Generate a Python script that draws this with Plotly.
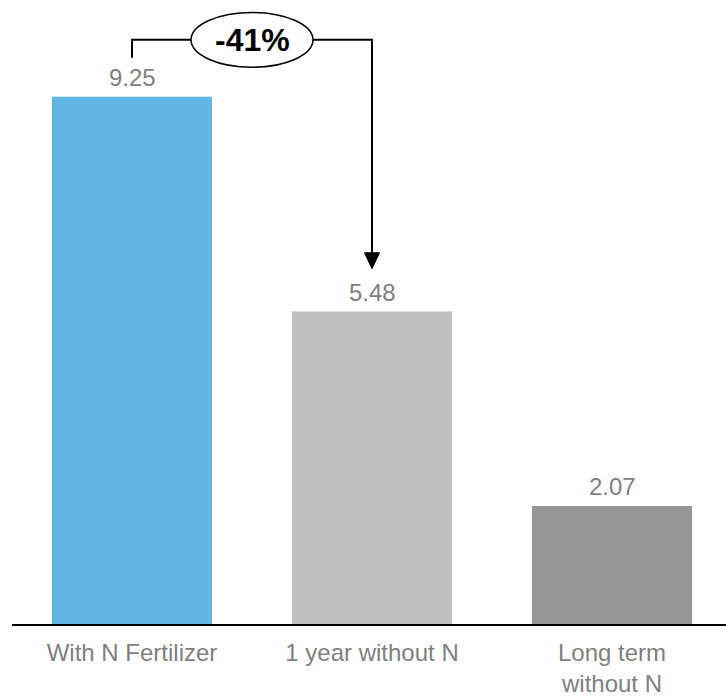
import plotly.graph_objects as go

# Grain yield by nitrogen treatment
categories = ["With N Fertilizer", "1 year without N", "Long term<br>without N"]
values = [9.25, 5.48, 2.07]
value_labels = ["9.25", "5.48", "2.07"]
bar_colors = ["#62B5E5", "#BFBFBF", "#969696"]
change_label = "-41%"

W, H = 726, 697
ML, MR, MT, MB = 12, 0, 0, 71
plot_w = W - ML - MR
plot_h = H - MT - MB
x_lo = -0.5
x_hi = x_lo + plot_w / 240.0          # 240 px per category
px_per_unit = 57.19
y_hi = plot_h / px_per_unit

def dx(px):
    return px / 240.0

def dy(px):
    return px / px_per_unit

TEXT_GREY = "#7F7F7F"
FONT = "Liberation Sans, Arial, sans-serif"
LABEL_SIZE = 24

fig = go.Figure()
fig.add_trace(go.Bar(
    x=list(range(len(categories))),
    y=values,
    marker=dict(color=bar_colors, line=dict(width=0)),
    width=0.667,
    hoverinfo="skip",
))

# value labels above each bar
for i, (v, t) in enumerate(zip(values, value_labels)):
    fig.add_annotation(x=i, y=v, text=t, showarrow=False, yanchor="bottom",
                       yshift=4, font=dict(family=FONT, size=LABEL_SIZE, color=TEXT_GREY))

# bracket from first bar to second bar with a downward arrow
top_y = values[0] + dy(57)
start_y = values[0] + dy(39)
tip_y = values[1] + dy(43)
head_len = dy(16)
head_half = dx(7.5)

fig.add_shape(type="path",
              path=f"M 0 {start_y} L 0 {top_y} L 1 {top_y} L 1 {tip_y + head_len}",
              line=dict(color="black", width=2))
fig.add_shape(type="path",
              path=f"M {1 - head_half} {tip_y + head_len} L {1 + head_half} {tip_y + head_len} L 1 {tip_y} Z",
              fillcolor="black", line=dict(color="black", width=1))

# ellipse carrying the percentage change
cx = 0.5
fig.add_shape(type="circle",
              x0=cx - dx(61), x1=cx + dx(61),
              y0=top_y - dy(27.5), y1=top_y + dy(27.5),
              fillcolor="white", line=dict(color="black", width=1.5))
fig.add_annotation(x=cx, y=top_y, text=f"<b>{change_label}</b>", showarrow=False,
                   font=dict(family=FONT, size=32, color="black"))

fig.update_layout(
    width=W, height=H,
    margin=dict(l=ML, r=MR, t=MT, b=MB),
    plot_bgcolor="white", paper_bgcolor="white",
    showlegend=False,
    xaxis=dict(range=[x_lo, x_hi], tickmode="array",
               tickvals=list(range(len(categories))), ticktext=categories,
               showline=True, linecolor="black", linewidth=2,
               showgrid=False, zeroline=False, ticks="",
               ticklabelstandoff=6,
               tickfont=dict(family=FONT, size=LABEL_SIZE, color=TEXT_GREY),
               fixedrange=True),
    yaxis=dict(range=[0, y_hi], visible=False, fixedrange=True),
)

fig.write_html("out.html")
